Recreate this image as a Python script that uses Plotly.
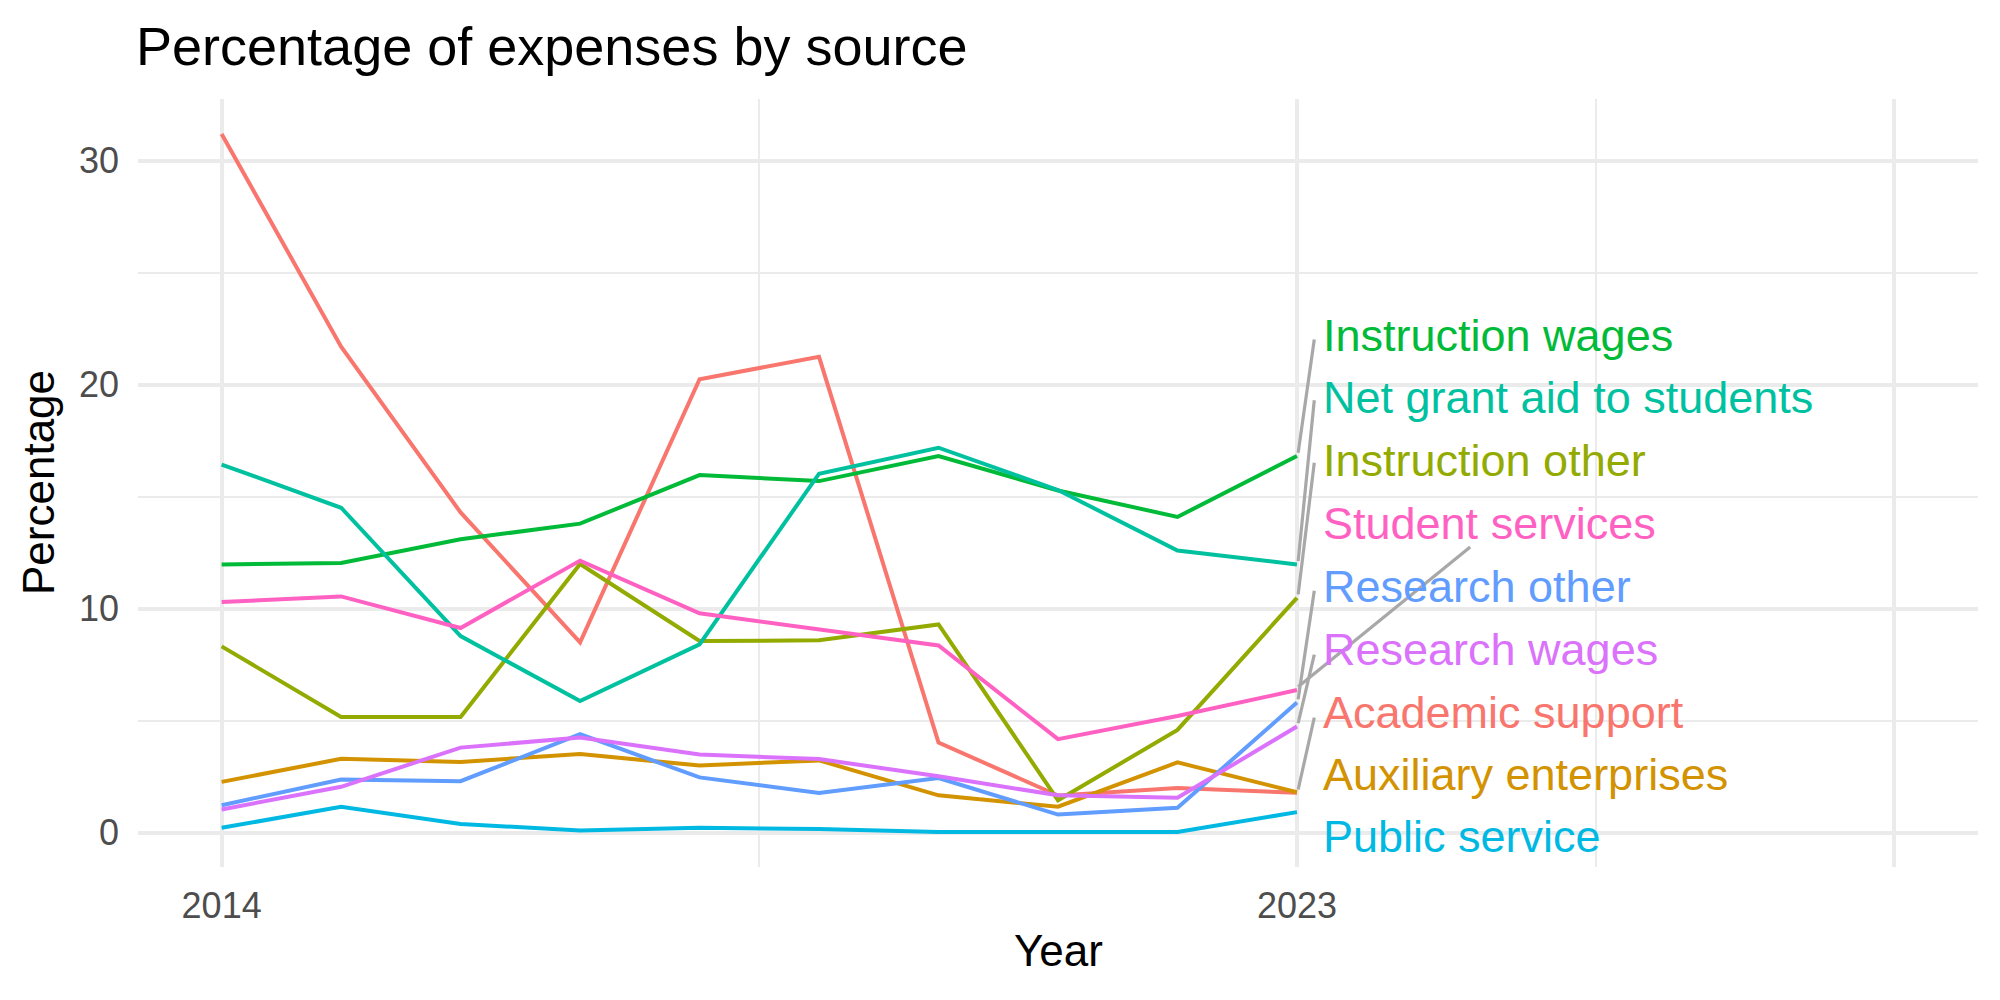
import plotly.graph_objects as go

years = [2014, 2015, 2016, 2017, 2018, 2019, 2020, 2021, 2022, 2023]

academic_support = [31.2, 21.7, 14.3, 8.5, 20.25, 21.25, 4.03, 1.66, 2.0, 1.78]
auxiliary_enterprises = [2.27, 3.30, 3.16, 3.51, 3.0, 3.23, 1.67, 1.16, 3.14, 1.81]
instruction_other = [8.32, 5.17, 5.17, 12.0, 8.56, 8.59, 9.3, 1.45, 4.59, 10.49]
instruction_wages = [11.98, 12.04, 13.1, 13.8, 15.97, 15.7, 16.82, 15.28, 14.1, 16.82]
net_grant_aid = [16.44, 14.51, 8.78, 5.88, 8.41, 16.03, 17.19, 15.3, 12.6, 11.98]
public_service = [0.22, 1.16, 0.39, 0.10, 0.22, 0.17, 0.03, 0.03, 0.03, 0.92]
research_other = [1.23, 2.38, 2.30, 4.40, 2.47, 1.78, 2.44, 0.81, 1.11, 5.81]
research_wages = [1.04, 2.05, 3.80, 4.25, 3.49, 3.29, 2.52, 1.67, 1.56, 4.74]
student_services = [10.3, 10.55, 9.14, 12.15, 9.8, 9.08, 8.36, 4.18, 5.21, 6.37]

series_names = ["Academic support", "Auxiliary enterprises", "Instruction other",
                "Instruction wages", "Net grant aid to students", "Public service",
                "Research other", "Research wages", "Student services"]
series_values = [academic_support, auxiliary_enterprises, instruction_other,
                 instruction_wages, net_grant_aid, public_service,
                 research_other, research_wages, student_services]
colors = ["#F8766D", "#D39200", "#93AA00", "#00BA38", "#00C19F", "#00B9E3",
          "#619CFF", "#DB72FB", "#FF61C3"]

# repelled label positions (layout) for each series, same order as series_names
label_y = [5.37, 2.61, 16.62, 22.22, 19.44, -0.18, 11.0, 8.18, 13.81]
label_x = 2023.2
# segment end points (None = no segment drawn)
seg_end = [(2023.145, 5.14), None, (2023.145, 16.52), (2023.145, 22.02),
           (2023.145, 19.31), None, (2023.145, 10.8), (2023.145, 7.95),
           (2024.45, 12.76)]

x_tickvals = [2014, 2023, 2028]
x_ticktext = ["2014", "2023", ""]
y_tickvals = [0, 10, 20, 30]

FONT = "Liberation Sans, Arial, Helvetica, sans-serif"

fig = go.Figure()

for name, vals, col in zip(series_names, series_values, colors):
    fig.add_trace(go.Scatter(x=years, y=vals, mode="lines", name=name,
                             line=dict(color=col, width=4), showlegend=False))

for vals, end in zip(series_values, seg_end):
    if end is None:
        continue
    fig.add_trace(go.Scatter(x=[years[-1] + 0.01, end[0]], y=[vals[-1] + 0.15, end[1]],
                             mode="lines", line=dict(color="#A8A8A8", width=3.2),
                             showlegend=False, hoverinfo="skip"))

annotations = []
for name, col, ly in zip(series_names, colors, label_y):
    annotations.append(dict(x=label_x, y=ly, xref="x", yref="y", text=name,
                            showarrow=False, xanchor="left", yanchor="middle",
                            font=dict(family=FONT, size=45, color=col)))

annotations.append(dict(x=0, y=1, xref="paper", yref="paper", xshift=-4, yshift=53,
                        text="Percentage of expenses by source", showarrow=False,
                        xanchor="left", yanchor="middle",
                        font=dict(family=FONT, size=54, color="black")))
annotations.append(dict(x=0.5, y=0, xref="paper", yref="paper", yshift=-83,
                        text="Year", showarrow=False, xanchor="center", yanchor="middle",
                        font=dict(family=FONT, size=44, color="black")))
annotations.append(dict(x=0, y=0.5, xref="paper", yref="paper", xshift=-100,
                        text="Percentage", showarrow=False, textangle=-90,
                        xanchor="center", yanchor="middle",
                        font=dict(family=FONT, size=44, color="black")))

fig.update_layout(
    width=2000, height=1000,
    margin=dict(l=138, r=22, t=99, b=133),
    paper_bgcolor="white", plot_bgcolor="white",
    annotations=annotations,
    font=dict(family=FONT),
    xaxis=dict(range=[2013.3, 2028.7], tickmode="array", tickvals=x_tickvals,
               ticktext=x_ticktext, showgrid=True, gridcolor="#EBEBEB", gridwidth=4,
               zeroline=False, showline=False, ticks="", ticklabelstandoff=14,
               tickfont=dict(family=FONT, size=36, color="#4D4D4D"),
               minor=dict(tickmode="array", tickvals=[2018.5, 2025.5], showgrid=True,
                          gridcolor="#EBEBEB", gridwidth=2)),
    yaxis=dict(range=[-1.53, 32.76], tickmode="array", tickvals=y_tickvals,
               showgrid=True, gridcolor="#EBEBEB", gridwidth=4,
               zeroline=False, showline=False, ticks="", ticklabelstandoff=18,
               tickfont=dict(family=FONT, size=36, color="#4D4D4D"),
               minor=dict(tickmode="array", tickvals=[5, 15, 25], showgrid=True,
                          gridcolor="#EBEBEB", gridwidth=2)),
)

fig.write_html("out.html")
